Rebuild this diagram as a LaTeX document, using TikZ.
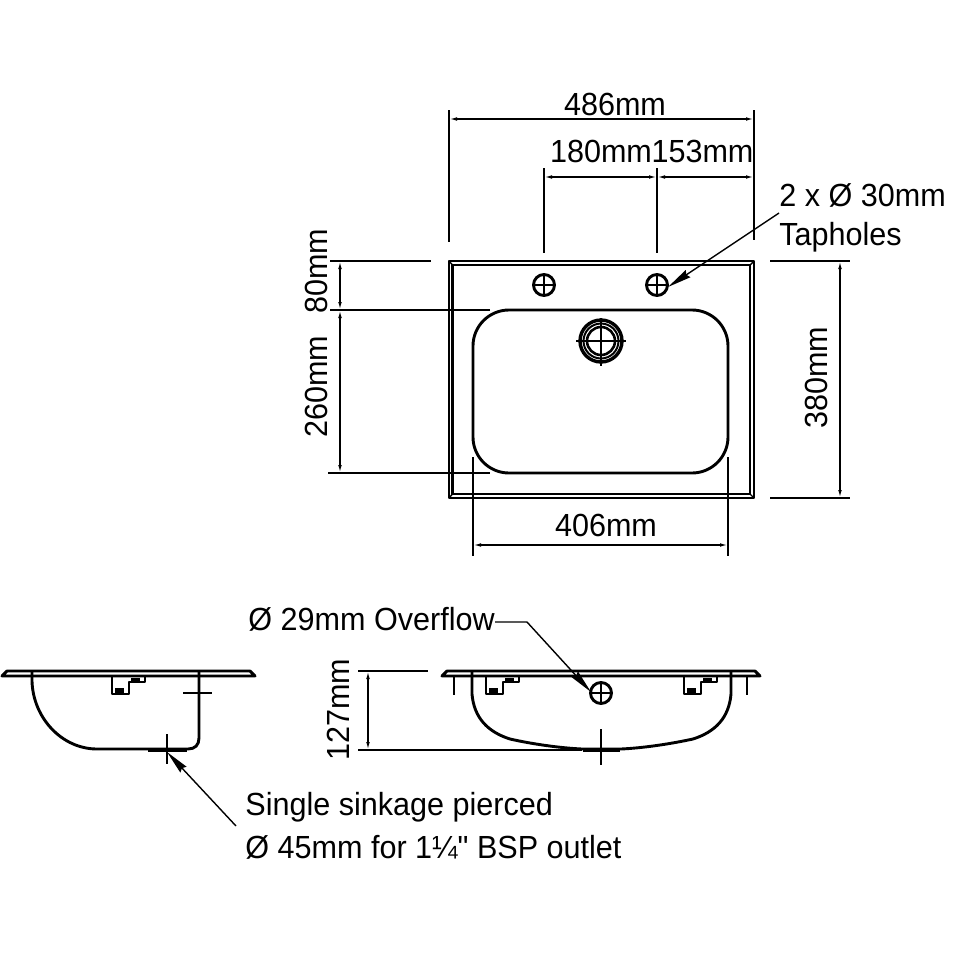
\documentclass[tikz,border=0pt]{standalone}
\usepackage{fontspec}
\newfontfamily\labelfont[FakeStretch=0.955]{Liberation Sans}
\usetikzlibrary{arrows.meta}
\tikzset{
  thin line/.style={line width=0.7pt,black},
  main line/.style={line width=1.45pt,black,line join=round},
  heavy line/.style={line width=1.9pt,black},
  dim/.style={thin line,{Latex[length=4pt,width=1.8pt]}-{Latex[length=4pt,width=1.8pt]}},
  leader/.style={thin line,-{Stealth[length=12pt,width=4.2pt,inset=1pt]}},
  label/.style={inner sep=0pt,font=\labelfont\fontsize{16}{18}\selectfont,text=black},
  rlabel/.style={label,rotate=90},
  blob/.style={fill=black,draw=none},
}
\newcommand{\crosscircle}[3]{%
  \draw[main line] (#1,#2) circle[radius=#3];
  \draw[thin line] (#1-#3-1,#2) -- (#1+#3+1,#2) (#1,#2-#3-1) -- (#1,#2+#3+1);
}
\newcommand{\bracketshape}[1]{%
  \draw[main line] (#1,677) -- (#1,694) -- (#1+17,694) -- (#1+17,682) -- (#1+33,682) -- (#1+33,677);
  \fill[blob] (#1+3,688) rectangle (#1+12,693);
  \fill[blob] (#1+19,678) rectangle (#1+28,682);
}
\begin{document}
\begin{tikzpicture}[x=0.5pt,y=-0.5pt]
\useasboundingbox (0,0) rectangle (954,954);
\fill[white] (0,0) rectangle (954,954);

% --- plan view ---
\draw[main line] (449,261) rectangle (754,498);
\draw[line width=1.1pt] (452.5,265) rectangle (750,494);
\draw[thin line] (449,261) -- (452.5,265) (754,261) -- (750,265) (449,498) -- (452.5,494) (754,498) -- (750,494);
\draw[main line,rounded corners=36*0.5pt] (473,310) rectangle (728,473);
\crosscircle{544}{285}{10.5}
\crosscircle{657}{285}{10.5}
\draw[line width=1.7pt] (601,341) circle[radius=21];
\draw[line width=1pt] (601,341) circle[radius=17.5];
\draw[line width=1.3pt] (601,341) circle[radius=14];
\draw[thin line] (576,341) -- (626,341) (601,318) -- (601,366);

% --- extension lines ---
\draw[thin line] (449,110) -- (449,242);
\draw[thin line] (754,110) -- (754,240);
\draw[thin line] (544,168) -- (544,253);
\draw[thin line] (657,168) -- (657,253);
\draw[thin line] (330,261) -- (431,261);
\draw[thin line] (330,310) -- (490,310);
\draw[thin line] (328,473) -- (490,473);
\draw[thin line] (770,261) -- (850,261);
\draw[thin line] (770,498) -- (850,498);
\draw[thin line] (473,457) -- (473,556);
\draw[thin line] (728,457) -- (728,556);

% --- dimension lines ---
\coordinate (t1) at (449,119); \coordinate (t2) at (754,119);
\coordinate (s1) at (544,177); \coordinate (s2) at (657,177); \coordinate (s3) at (754,177);
\coordinate (l1) at (340,261); \coordinate (l2) at (340,310); \coordinate (l3) at (340,473);
\coordinate (r1) at (840,261); \coordinate (r2) at (840,498);
\coordinate (b1) at (473,545); \coordinate (b2) at (728,545);
\draw[dim] (t1) -- (t2);
\draw[dim] (s1) -- (s2);
\draw[dim] (s2) -- (s3);
\draw[dim] (l1) -- (l2);
\draw[dim] (l2) -- (l3);
\draw[dim] (r1) -- (r2);
\draw[dim] (b1) -- (b2);

\node[label] (d486) at (615,104) {486mm};
\node[label] (d180) at (601,151) {180mm};
\node[label] (d153) at (702.5,151) {153mm};
\node[label,anchor=west] (tap1) at (779,195) {2 x Ø 30mm};
\node[label,anchor=west] (tap2) at (779,237) {Tapholes};
\node[rlabel] (d80) at (316,271) {80mm};
\node[rlabel] (d260) at (316,387) {260mm};
\node[rlabel] (d380) at (816,378) {380mm};
\node[label] (d406) at (606,525) {406mm};

\coordinate (tapEnd) at (779,213);
\coordinate (tapTip) at (668,287);
\draw[leader] (tapEnd) -- (tapTip);

% --- left section ---
\draw[main line] (2,676) -- (7,671) -- (250,671) -- (255,676) -- cycle;
\draw[main line] (32,672) -- (32,681) .. controls (33,718) and (62,749) .. (97,749) -- (188,749) .. controls (195,749) and (199,745) .. (199,738) -- (199,672);
\draw[heavy line] (148,750) -- (187,750);
\draw[thin line] (167,734) -- (167,764);
\draw[line width=0.9pt] (183,693) -- (212,693);
\bracketshape{112}

\node[label,anchor=west] (sink1) at (245,807) {Single sinkage pierced};
\node[label,anchor=west] (sink2) at (245,847) {Ø 45mm for 1¼" BSP outlet};
\coordinate (sinkEnd) at (236,826);
\coordinate (sinkTip) at (167,752);
\draw[leader] (sinkEnd) -- (sinkTip);

% --- right section ---
\draw[main line] (442,676) -- (447,671) -- (755,671) -- (760,676) -- cycle;
\draw[main line] (454,677) -- (454,695);
\draw[main line] (747,677) -- (747,695);
\draw[main line] (472,672) -- (472,694) .. controls (474,718) and (488,732) .. (510,739) .. controls (532,744) and (560,748) .. (582,749) -- (621,749) .. controls (643,748) and (670,744) .. (693,739) .. controls (715,732) and (729,718) .. (731,694) -- (731,672);
\draw[heavy line] (583,750) -- (620,750);
\bracketshape{486}
\bracketshape{684}
\crosscircle{601}{693}{10.5}
\draw[thin line] (601,729) -- (601,765);

\draw[thin line] (358,671) -- (428,671);
\draw[thin line] (358,750) -- (582,750);
\coordinate (h1) at (368,671); \coordinate (h2) at (368,750);
\draw[dim] (h1) -- (h2);
\node[rlabel] (d127) at (338,710) {127mm};

\node[label,anchor=west] (over) at (248,619) {Ø 29mm Overflow};
\coordinate (overElbow) at (527,622);
\coordinate (overTip) at (591,692);
\draw[leader] (495,622) -- (overElbow) -- (overTip);
\end{tikzpicture}
\end{document}
